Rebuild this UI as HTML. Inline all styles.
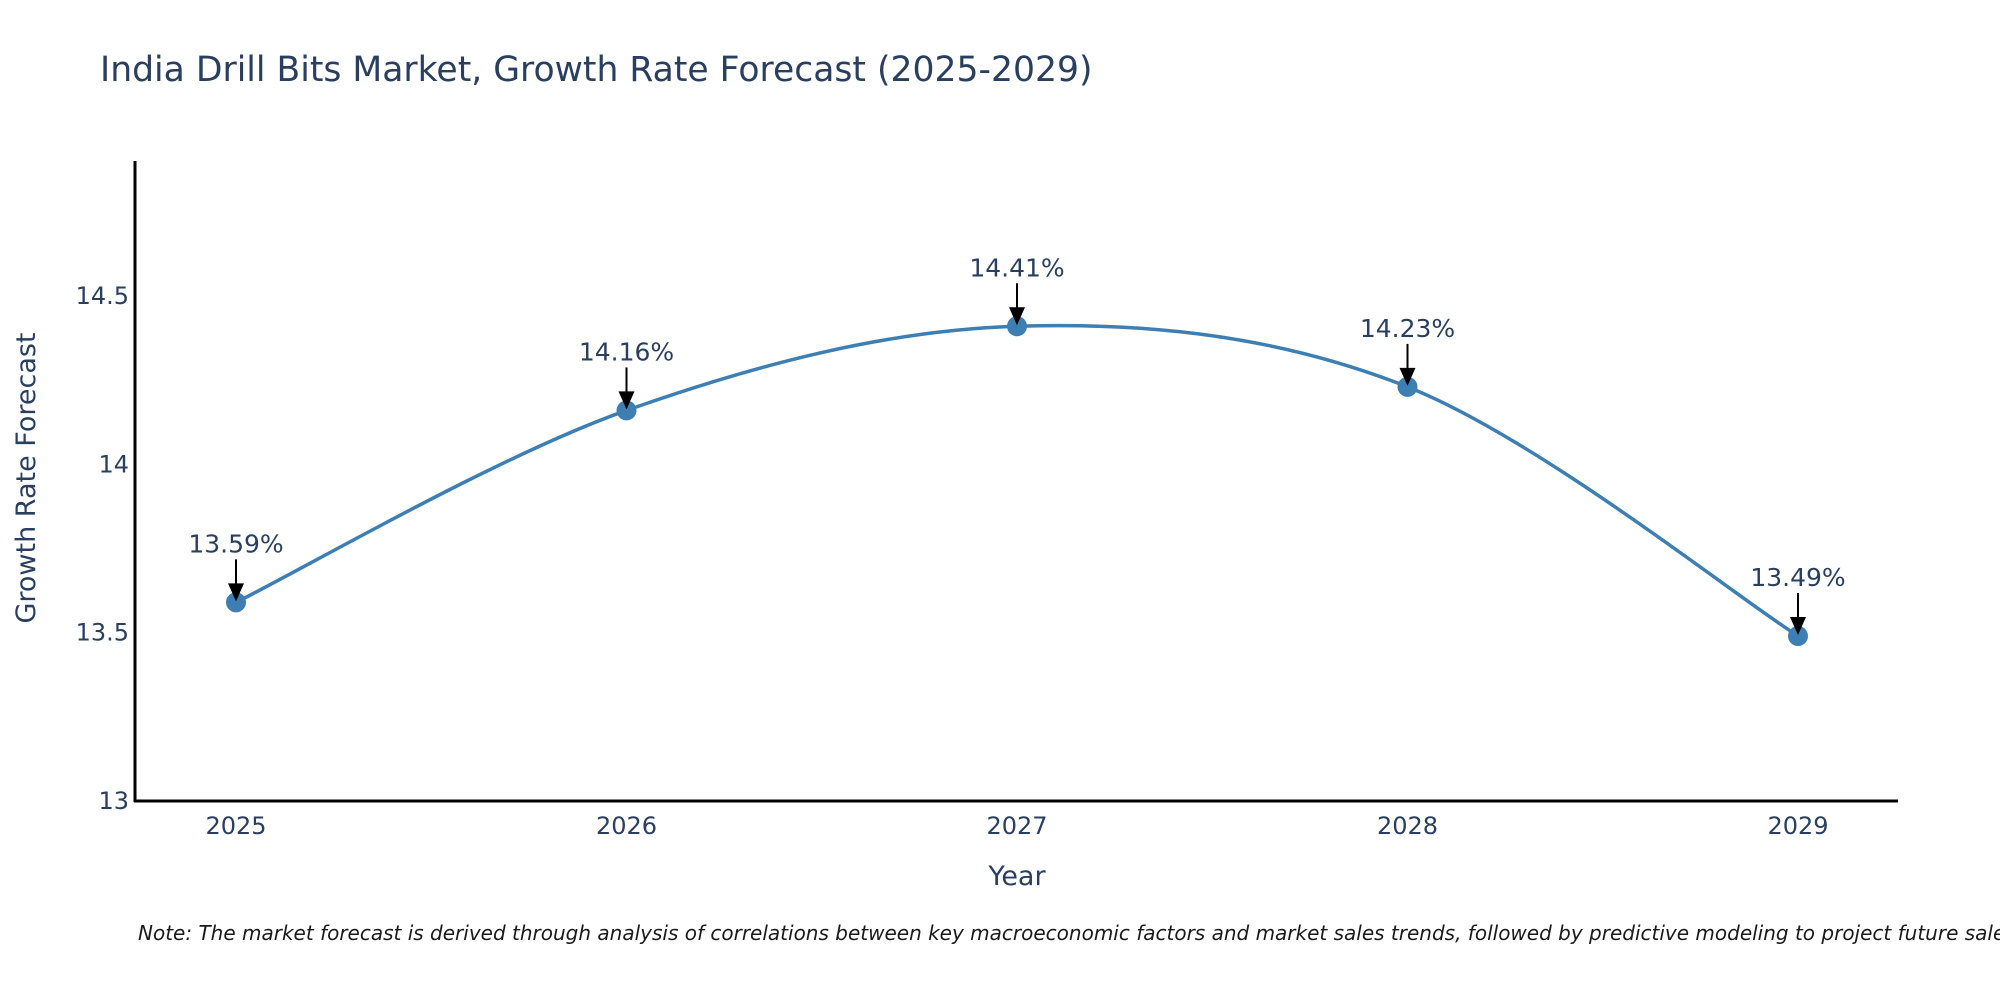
<!DOCTYPE html>
<html><head><meta charset="utf-8"><style>
html,body{margin:0;padding:0;background:#fff;}
svg{display:block;font-family:"DejaVu Sans","Liberation Sans",sans-serif;}
</style></head><body>
<svg id="chart" width="2000" height="1000" viewBox="0 0 2000 1000">
<text x="100" y="81" font-size="34.6" fill="#2a3f5f">India Drill Bits Market, Growth Rate Forecast (2025-2029)</text>
<g id="yticks"></g>
<g id="xticks"></g>
<line x1="135" y1="161" x2="135" y2="802" stroke="#000" stroke-width="3"/>
<line x1="134" y1="801" x2="1898" y2="801" stroke="#000" stroke-width="3"/>
<path id="line" fill="none" stroke="#3d7fb3" stroke-width="3.5"/>
<g id="marks"></g>
<g id="annots"></g>
<text x="1017" y="885" font-size="27" fill="#2a3f5f" text-anchor="middle">Year</text>
<text transform="translate(35,478) rotate(-90)" font-size="27" fill="#2a3f5f" text-anchor="middle">Growth Rate Forecast</text>
<text x="138" y="940" font-size="20" font-style="italic" fill="#1a1a1a">Note: The market forecast is derived through analysis of correlations between key macroeconomic factors and market sales trends, followed by predictive modeling to project future sales.</text>
</svg>
<script>
const years = [2025, 2026, 2027, 2028, 2029];
const values = [13.59, 14.16, 14.41, 14.23, 13.49];
const yTickValues = [13, 13.5, 14, 14.5];
const yTickLabels = ["13", "13.5", "14", "14.5"];
const NS = "http://www.w3.org/2000/svg";
function xScale(v){ return 236 + (v - 2025) * 390.5; }
function yScale(v){ return 801 - (v - 13) * 336.7; }
function mk(tag, attrs){ const e = document.createElementNS(NS, tag); for (const k in attrs) e.setAttribute(k, attrs[k]); return e; }
const yt = document.getElementById('yticks');
yTickValues.forEach((v, i) => {
  const t = mk('text', {x: 129, y: yScale(v) + 8, 'font-size': 24, fill: '#2a3f5f', 'text-anchor': 'end'});
  t.textContent = yTickLabels[i];
  
  
  yt.appendChild(t);
});
const xt = document.getElementById('xticks');
years.forEach(y => {
  const t = mk('text', {x: xScale(y), y: 834, 'font-size': 24, fill: '#2a3f5f', 'text-anchor': 'middle'});
  t.textContent = String(y);
  
  
  xt.appendChild(t);
});
const pts = years.map((y, i) => [xScale(y), yScale(values[i])]);
let d = 'M' + pts[0][0] + ',' + pts[0][1];
const s = 1/6;
for (let i = 0; i < pts.length - 1; i++) {
  const p0 = pts[Math.max(i-1,0)], p1 = pts[i], p2 = pts[i+1], p3 = pts[Math.min(i+2, pts.length-1)];
  const c1 = [p1[0] + (p2[0]-p0[0])*s, p1[1] + (p2[1]-p0[1])*s];
  const c2 = [p2[0] - (p3[0]-p1[0])*s, p2[1] - (p3[1]-p1[1])*s];
  d += ' C' + c1 + ' ' + c2 + ' ' + p2;
}
document.getElementById('line').setAttribute('d', d);
const mg = document.getElementById('marks'), ag = document.getElementById('annots');
pts.forEach((p, i) => {
  const c = mk('circle', {cx: p[0], cy: p[1], r: 10, fill: '#3d7fb3'});
  
  
  mg.appendChild(c);
  const l = mk('line', {x1: p[0], y1: p[1] - 43, x2: p[0], y2: p[1] - 14, stroke: '#000', 'stroke-width': 2});
  
  
  ag.appendChild(l);
  const h = mk('path', {d: `M${p[0]-8},${p[1]-19} L${p[0]+8},${p[1]-19} L${p[0]},${p[1]-1} Z`, fill: '#000'});
  
  
  ag.appendChild(h);
  const t = mk('text', {x: p[0], y: p[1] - 50, 'font-size': 25, fill: '#2a3f5f', 'text-anchor': 'middle'});
  t.textContent = values[i].toFixed(2) + '%';
  
  
  ag.appendChild(t);
});
</script>
</body></html>
